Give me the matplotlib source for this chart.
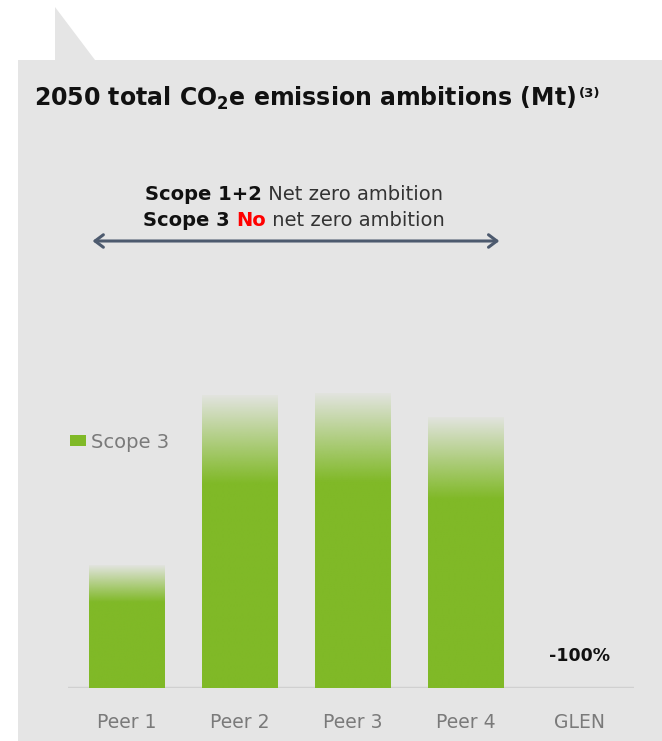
import numpy as np
import matplotlib
matplotlib.use('Agg')
import matplotlib.pyplot as plt
from matplotlib.patches import Rectangle, Polygon, Patch
from matplotlib.colors import to_rgb

# Scope 3 emissions by company (relative heights)
companies = ['Peer 1', 'Peer 2', 'Peer 3', 'Peer 4', 'GLEN']
scope3 = [123, 293, 295, 271, 0]
glen_change = '-100%'

GREEN = '#80b927'
PANEL = '#e5e5e5'
W, H = 662, 741

plt.rcParams['font.family'] = ['DejaVu Sans']
plt.rcParams['mathtext.default'] = 'regular'

fig = plt.figure(figsize=(W / 100, H / 100), dpi=100)
fig.patch.set_facecolor('white')


def fx(px):
    return px / W


def fy(py):
    return 1 - py / H


# grey panel with the small folded tab on top
panel = Rectangle((fx(18), 0), fx(W) - fx(18), fy(60), transform=fig.transFigure,
                  facecolor=PANEL, edgecolor='none', zorder=-10)
tab = Polygon([(fx(55), fy(60)), (fx(55), fy(7)), (fx(95), fy(60))], closed=True,
              transform=fig.transFigure, facecolor=PANEL, edgecolor='none', zorder=-10)
fig.add_artist(panel)
fig.add_artist(tab)

title = fig.text(fx(34), fy(98), r'2050 total CO$_{\mathregular{2}}$e emission ambitions (Mt)',
                 fontsize=17, fontweight='bold', color='#111111', va='center', ha='left')

# axes: baseline at y=688px, x centres 113px apart starting at 127px
left, right, base, top = 68, 634, 688, 120
ax = fig.add_axes([fx(left), fy(base), fx(right) - fx(left), fy(top) - fy(base)])
ax.set_facecolor('none')
step = 113
ax.set_xlim(-(127 - left) / step, (right - 127) / step)
ax.set_ylim(0, base - top)

# footnote marker after the title
ax.annotate('(3)', xy=(1, 0.92), xycoords=title, xytext=(2, 0), textcoords='offset points',
            fontsize=9.5, fontweight='bold', color='#111111', va='top', ha='left',
            annotation_clip=False)

x = np.arange(len(companies))
bars = ax.bar(x, scope3, width=0.67, color='none', edgecolor='none', zorder=3)

# vertical fade in the top 30% of each bar
g = np.array(to_rgb(GREEN))
n = 256
frac = np.linspace(0, 1, n)
alpha = np.clip((1 - frac) / 0.3, 0, 1)
alpha = 0.04 + 0.96 * alpha
grad = np.zeros((n, 1, 4))
grad[:, 0, :3] = g
grad[:, 0, 3] = alpha
for b in bars:
    if b.get_height() <= 0:
        continue
    x0, w, h = b.get_x(), b.get_width(), b.get_height()
    im = ax.imshow(grad, extent=(x0, x0 + w, 0, h), origin='lower', aspect='auto',
                   interpolation='bilinear', zorder=3)
    im.set_clip_path(b)

ax.axhline(0, color='#d0d0d0', lw=2.5, zorder=2)
ax.text(4, 32, glen_change, ha='center', va='center', fontsize=12.5, fontweight='bold', color='#111111')

ax.set_xticks(x, companies)
ax.tick_params(axis='x', length=0, pad=18, labelsize=13.5, labelcolor='#7a7a7a')
ax.set_yticks([])
for s in ax.spines.values():
    s.set_visible(False)

# arrow spanning peers with net zero notes above it
ax.annotate('', xy=(3.32, base - 241), xytext=(-0.33, base - 241),
            arrowprops=dict(arrowstyle='<->,head_length=0.6,head_width=0.45', color='#4d5a6e', lw=2.2))


def rich_line(parts, xc, y, size):
    r = fig.canvas.get_renderer()
    texts = []
    cur = 0
    for s, weight, col in parts:
        t = ax.text(0, y, s, fontsize=size, fontweight=weight, color=col, va='center', ha='left')
        bb = t.get_window_extent(renderer=r)
        texts.append((t, cur))
        cur += bb.width
    x0_px = ax.transData.transform((xc, y))[0] - cur / 2
    for t, off in texts:
        xd = ax.transData.inverted().transform((x0_px + off, 0))[0]
        t.set_x(xd)


rich_line([('Scope 1+2', 'bold', '#111111'), (' Net zero ambition', 'normal', '#333333')],
          1.48, base - 194, 14)
rich_line([('Scope 3 ', 'bold', '#111111'), ('No', 'bold', '#ff0000'), (' net zero ambition', 'normal', '#333333')],
          1.48, base - 220, 14)

leg = ax.legend(handles=[Patch(facecolor=GREEN, label='Scope 3')], loc='center left',
                frameon=False, fontsize=14, handlelength=0.8, handleheight=0.45,
                handletextpad=0.3, labelcolor='#7a7a7a', borderpad=0, borderaxespad=0)
leg.set_bbox_to_anchor((fx(70), fy(442)), transform=fig.transFigure)

fig.savefig('out.png', dpi=100)
